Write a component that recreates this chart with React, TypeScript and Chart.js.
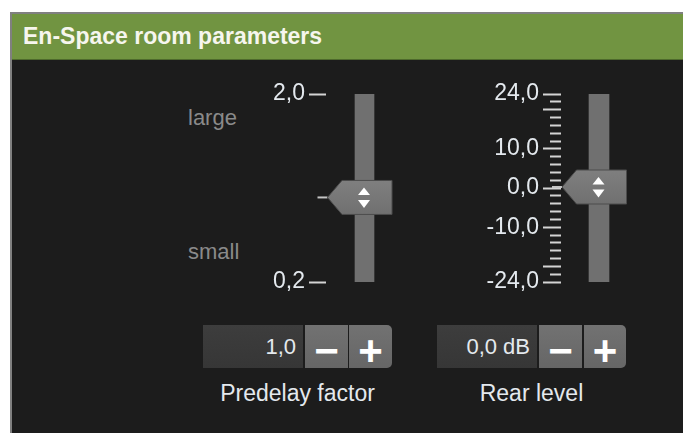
import React, { useEffect, useRef } from "react";
import { Chart, registerables } from "chart.js";

Chart.register(...registerables);

// ---- data ----
const sliderLabels = ["Predelay factor", "Rear level"];
const predelayRange = [0.2, 2.0];
const predelayTicks = [2.0, 0.2];
const predelayValue = 1.0;
const predelayHints = ["large", "small"];
const rearRange = [-24, 24];
const rearMajorTicks = [24, 20, 10, 0, -10, -20, -24];
const rearLabelTicks = [24, 10, 0, -10, -24];
const rearMinorTicks = [24, 22, 20, 18, 16, 14, 12, 10, 8, 6, 4, 2, 0, -2, -4, -6, -8, -10, -12, -14, -16, -18, -20, -22, -24];
const rearValue = 0.0;
const boxTexts = ["1,0", "0,0 dB"];
const panelTitle = "En-Space room parameters";

const FONT = '"Liberation Sans", Arial, sans-serif';
const TEXT = "#e4e9ee";
const TICK = "#d4d4d4";
const TRACK = "#707070";
const W = 683;
const H = 433;

const fmt = (v: number) => v.toFixed(1).replace(".", ",");

function thumbPlugin(value: number, scaleId: string) {
  return {
    id: "thumb",
    afterDatasetsDraw(chart: any) {
      const ctx = chart.ctx;
      const scale = chart.scales[scaleId];
      const bar = chart.getDatasetMeta(0).data[0];
      const cx = bar.x;
      const y = scale.getPixelForValue(value) - 1;
      const tipX = cx - 37;
      const bodyL = cx - 22.5;
      const bodyR = cx + 27.5;
      const top = y - 17;
      const bottom = y + 17;
      ctx.save();
      ctx.strokeStyle = "#c4c4c4";
      ctx.lineWidth = 2;
      ctx.beginPath();
      ctx.moveTo(tipX - 10, y);
      ctx.lineTo(tipX, y);
      ctx.stroke();
      ctx.beginPath();
      ctx.moveTo(tipX, y);
      ctx.lineTo(bodyL, top);
      ctx.lineTo(bodyR, top);
      ctx.lineTo(bodyR, bottom);
      ctx.lineTo(bodyL, bottom);
      ctx.closePath();
      const g = ctx.createLinearGradient(0, top, 0, bottom);
      g.addColorStop(0, "#7f7f7f");
      g.addColorStop(1, "#707070");
      ctx.fillStyle = g;
      ctx.fill();
      ctx.strokeStyle = "#4c4c4c";
      ctx.lineWidth = 1;
      ctx.stroke();
      ctx.fillStyle = "#ffffff";
      const ax = cx - 0.5;
      ctx.beginPath();
      ctx.moveTo(ax, y - 10);
      ctx.lineTo(ax + 6, y - 2.5);
      ctx.lineTo(ax - 6, y - 2.5);
      ctx.closePath();
      ctx.fill();
      ctx.beginPath();
      ctx.moveTo(ax - 6, y + 2.5);
      ctx.lineTo(ax + 6, y + 2.5);
      ctx.lineTo(ax, y + 10.5);
      ctx.closePath();
      ctx.fill();
      ctx.restore();
    },
  };
}

function predelayConfig(): any {
  return {
    type: "bar",
    data: {
      labels: [sliderLabels[0]],
      datasets: [{ data: [predelayRange], backgroundColor: TRACK, barThickness: 19, borderWidth: 0 }],
    },
    options: {
      responsive: false,
      animation: false,
      events: [],
      layout: { padding: { left: 200, top: 94, right: W - 403, bottom: H - 282 } },
      plugins: { legend: { display: false }, tooltip: { enabled: false } },
      scales: {
        x: { display: false },
        y: {
          position: "left",
          min: predelayRange[0],
          max: predelayRange[1],
          afterBuildTicks: (s: any) => {
            s.ticks = predelayTicks.map((v) => ({ value: v }));
          },
          afterFit: (s: any) => {
            s.width = 126;
          },
          grid: { drawOnChartArea: false, tickLength: 17, tickWidth: 2, tickColor: TICK },
          border: { display: false },
          ticks: {
            autoSkip: false,
            padding: 4,
            color: TEXT,
            font: { family: FONT, size: 23 },
            callback: (v: any) => fmt(Number(v)),
          },
        },
      },
    },
    plugins: [thumbPlugin(predelayValue, "y")],
  };
}

function rearConfig(): any {
  return {
    type: "bar",
    data: {
      labels: [sliderLabels[1]],
      datasets: [{ data: [rearRange], backgroundColor: TRACK, barThickness: 20, borderWidth: 0, yAxisID: "y" }],
    },
    options: {
      responsive: false,
      animation: false,
      events: [],
      layout: { padding: { left: 440, top: 94, right: W - 637, bottom: H - 282 } },
      plugins: { legend: { display: false }, tooltip: { enabled: false } },
      scales: {
        x: { display: false },
        yMajor: {
          axis: "y",
          position: "left",
          weight: 1,
          min: rearRange[0],
          max: rearRange[1],
          afterBuildTicks: (s: any) => {
            s.ticks = rearMajorTicks.map((v) => ({ value: v }));
          },
          afterFit: (s: any) => {
            s.width = 110;
          },
          grid: { drawOnChartArea: false, tickLength: 7, tickWidth: 2, tickColor: TICK },
          border: { display: false },
          ticks: {
            autoSkip: false,
            padding: 4,
            color: TEXT,
            font: { family: FONT, size: 23 },
            callback: (v: any) => (rearLabelTicks.includes(Number(v)) ? fmt(Number(v)) : ""),
          },
        },
        y: {
          position: "left",
          weight: 0,
          min: rearRange[0],
          max: rearRange[1],
          afterBuildTicks: (s: any) => {
            s.ticks = rearMinorTicks.map((v) => ({ value: v }));
          },
          afterFit: (s: any) => {
            s.width = 11;
          },
          grid: { drawOnChartArea: false, tickLength: 11, tickWidth: 2, tickColor: TICK },
          border: { display: false },
          ticks: { display: false, autoSkip: false },
        },
      },
    },
    plugins: [thumbPlugin(rearValue, "y")],
  };
}

function ChartCanvas({ build }: { build: () => any }) {
  const ref = useRef<HTMLCanvasElement | null>(null);
  useEffect(() => {
    const chart = new Chart(ref.current as HTMLCanvasElement, build());
    return () => chart.destroy();
  }, []);
  return (
    <canvas
      ref={ref}
      width={W}
      height={H}
      style={{ position: "absolute", left: 0, top: 0, width: W, height: H, pointerEvents: "none" }}
    />
  );
}

const groups = [
  { left: 203, boxW: 100, minusL: 305, plusL: 349, plusW: 43 },
  { left: 437, boxW: 100, minusL: 539, plusL: 584, plusW: 42 },
];

function Btn({ left, width, sign, round }: { left: number; width: number; sign: string; round?: boolean }) {
  return (
    <div
      style={{
        position: "absolute",
        left,
        top: 325,
        width,
        height: 43,
        background: "linear-gradient(#727272, #666666)",
        borderRadius: round ? "0 5px 5px 0" : 0,
        color: "#ffffff",
        fontWeight: "bold",
        fontSize: 42,
        lineHeight: "43px",
        textAlign: "center",
        overflow: "hidden",
      }}
    >
      <span style={{ position: "relative", top: 4 }}>{sign}</span>
    </div>
  );
}

export default function App() {
  return (
    <div
      style={{
        position: "fixed",
        left: 0,
        top: 0,
        width: W,
        height: H,
        background: "#ffffff",
        overflow: "hidden",
        fontFamily: FONT,
      }}
    >
      <div
        style={{
          position: "absolute",
          left: 10,
          top: 12,
          right: 0,
          bottom: 0,
          background: "#1c1c1c",
          borderLeft: "2px solid #808080",
          borderTop: "2px solid #808080",
        }}
      />
      <div
        style={{
          position: "absolute",
          left: 12,
          top: 14,
          right: 0,
          height: 45,
          background: "#719441",
          borderBottom: "1px solid #4e6a2c",
          color: "#f6f6ee",
          fontWeight: "bold",
          fontSize: 23,
          lineHeight: "45px",
          paddingLeft: 11,
          whiteSpace: "nowrap",
        }}
      >
        {panelTitle}
      </div>
      <div style={{ position: "absolute", left: 188, top: 107, fontSize: 22, lineHeight: "22px", color: "#8a8a8a" }}>
        {predelayHints[0]}
      </div>
      <div style={{ position: "absolute", left: 188, top: 241, fontSize: 22, lineHeight: "22px", color: "#8a8a8a" }}>
        {predelayHints[1]}
      </div>
      {groups.map((g, i) => (
        <React.Fragment key={i}>
          <div
            style={{
              position: "absolute",
              left: g.left,
              top: 325,
              width: g.boxW,
              height: 43,
              background: "linear-gradient(#3d3d3d, #363636)",
              color: TEXT,
              fontSize: 22,
              lineHeight: "43px",
              textAlign: "right",
              paddingRight: 7,
              boxSizing: "border-box",
            }}
          >
            {boxTexts[i]}
          </div>
          <Btn left={g.minusL} width={43} sign={"\u2212"} />
          <Btn left={g.plusL} width={g.plusW} sign={"+"} round />
          <div
            style={{
              position: "absolute",
              left: g.left,
              top: 382,
              width: g.plusL + g.plusW - g.left,
              textAlign: "center",
              fontSize: 23,
              lineHeight: "23px",
              color: TEXT,
              whiteSpace: "nowrap",
            }}
          >
            {sliderLabels[i]}
          </div>
        </React.Fragment>
      ))}
      <ChartCanvas build={predelayConfig} />
      <ChartCanvas build={rearConfig} />
    </div>
  );
}
